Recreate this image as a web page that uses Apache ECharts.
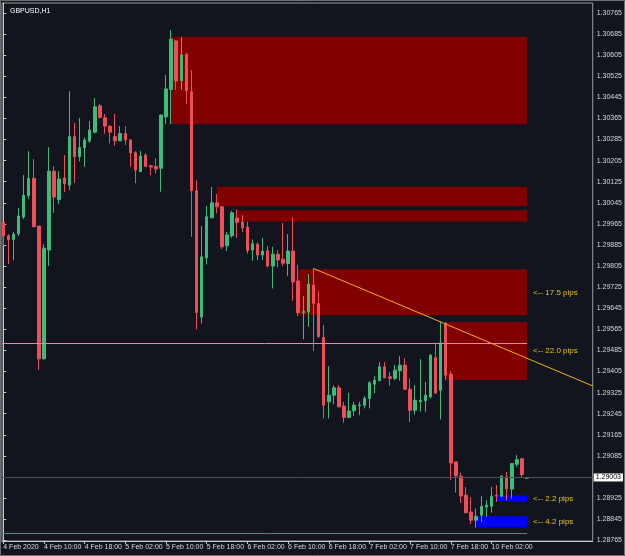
<!DOCTYPE html>
<html>
<head>
<meta charset="utf-8">
<script src="https://cdn.jsdelivr.net/npm/echarts@6/dist/echarts.min.js"></script>
<style>
html,body{margin:0;padding:0;background:#12151e;}
#c{width:625px;height:556px;}
</style>
</head>
<body>
<div id="c"></div>
<script>
// ---- Data (GBPUSD H1, bar 0 = 4 Feb 2020 02:00) ----
const opens = [
1.29971,1.29920,1.29905,1.29927,1.29991,1.30072,1.30138,1.29957,1.29453,1.29866,
1.30165,1.30058,1.30139,1.30112,1.30296,1.30220,1.30254,1.30279,1.30313,1.30413,
1.30368,1.30335,1.30296,1.30280,1.30308,1.30283,1.30235,1.30163,1.30226,1.30186,
1.30183,1.30176,1.30371,1.30475,1.30659,1.30508,1.30607,1.30466,1.30091,1.29612,
1.29836,1.29988,1.30045,1.30030,1.29882,1.29920,1.29987,1.29972,1.29953,1.29866,
1.29888,1.29847,1.29863,1.29805,1.29850,1.29831,1.29815,1.29862,1.29748,1.29628,
1.29631,1.29733,1.29663,1.29534,1.29290,1.29315,1.29343,1.29274,1.29231,1.29256,
1.29276,1.29277,1.29303,1.29357,1.29370,1.29423,1.29385,1.29379,1.29408,1.29429,
1.29338,1.29258,1.29290,1.29294,1.29309,1.29457,1.29334,1.29587,1.29395,1.29062,
1.29008,1.28936,1.28872,1.28841,1.28860,1.28891,1.28894,1.28936,1.28932,1.29005,
1.28959,1.29053,1.29074,1.29000];
const closes = [
1.29920,1.29905,1.29926,1.29995,1.30074,1.30138,1.29954,1.29453,1.29873,1.30165,
1.30067,1.30135,1.30117,1.30296,1.30220,1.30255,1.30283,1.30321,1.30409,1.30369,
1.30336,1.30313,1.30280,1.30308,1.30283,1.30235,1.30169,1.30222,1.30183,1.30181,
1.30173,1.30378,1.30477,1.30666,1.30507,1.30606,1.30470,1.30091,1.29629,1.29840,
1.29992,1.30045,1.30030,1.29878,1.29923,1.30007,1.29971,1.29950,1.29864,1.29890,
1.29847,1.29862,1.29805,1.29850,1.29828,1.29816,1.29862,1.29745,1.29628,1.29634,
1.29737,1.29663,1.29537,1.29277,1.29315,1.29343,1.29271,1.29231,1.29255,1.29277,
1.29278,1.29303,1.29362,1.29372,1.29423,1.29381,1.29379,1.29410,1.29429,1.29338,
1.29258,1.29296,1.29296,1.29315,1.29467,1.29323,1.29514,1.29391,1.29058,1.29009,
1.28933,1.28869,1.28841,1.28856,1.28894,1.28898,1.28932,1.28932,1.29008,1.28959,
1.29056,1.29071,1.29014,1.29003];
const highs = [
1.29972,1.29926,1.29935,1.30026,1.30150,1.30241,1.30211,1.29957,1.29888,1.30256,
1.30184,1.30165,1.30226,1.30468,1.30348,1.30367,1.30292,1.30355,1.30442,1.30420,
1.30382,1.30340,1.30382,1.30336,1.30336,1.30287,1.30241,1.30242,1.30233,1.30188,
1.30214,1.30380,1.30530,1.30700,1.30663,1.30674,1.30614,1.30548,1.30131,1.29957,
1.30033,1.30105,1.30078,1.30033,1.29935,1.30014,1.30020,1.29998,1.29973,1.29906,
1.29895,1.29912,1.29882,1.29878,1.29866,1.29969,1.29926,1.29990,1.29809,1.29691,
1.29775,1.29796,1.29711,1.29581,1.29425,1.29353,1.29353,1.29290,1.29324,1.29290,
1.29290,1.29312,1.29368,1.29387,1.29441,1.29441,1.29403,1.29429,1.29463,1.29455,
1.29379,1.29353,1.29452,1.29366,1.29471,1.29514,1.29593,1.29593,1.29406,1.29065,
1.29020,1.28967,1.28928,1.28885,1.28932,1.28917,1.28967,1.28974,1.29012,1.29024,
1.29058,1.29088,1.29077,1.29004];
const lows = [
1.29881,1.29812,1.29827,1.29919,1.29983,1.30059,1.29953,1.29410,1.29452,1.29805,
1.30007,1.30041,1.30085,1.30093,1.30121,1.30202,1.30182,1.30273,1.30308,1.30365,
1.30307,1.30270,1.30261,1.30279,1.30264,1.30182,1.30119,1.30162,1.30181,1.30150,
1.30157,1.30087,1.30343,1.30343,1.30473,1.30473,1.30420,1.29916,1.29565,1.29587,
1.29811,1.29987,1.30005,1.29869,1.29862,1.29912,1.29912,1.29933,1.29852,1.29825,
1.29827,1.29828,1.29800,1.29720,1.29800,1.29805,1.29767,1.29673,1.29615,1.29527,
1.29575,1.29483,1.29534,1.29227,1.29227,1.29281,1.29270,1.29210,1.29228,1.29237,
1.29239,1.29265,1.29265,1.29322,1.29368,1.29380,1.29351,1.29372,1.29370,1.29334,
1.29214,1.29242,1.29252,1.29252,1.29303,1.29319,1.29223,1.29372,1.28993,1.28945,
1.28907,1.28868,1.28826,1.28813,1.28834,1.28853,1.28869,1.28910,1.28929,1.28917,
1.28923,1.29043,1.29005,1.29000];

// x tick labels (every 8 bars)
const xTickIndex  = [0,8,16,24,32,40,48,56,64,72,80,88,96];
const xTickLabels = ['4 Feb 2020','4 Feb 10:00','4 Feb 18:00','5 Feb 02:00','5 Feb 10:00','5 Feb 18:00',
  '6 Feb 02:00','6 Feb 10:00','6 Feb 18:00','7 Feb 02:00','7 Feb 10:00','7 Feb 18:00','10 Feb 02:00'];
// y tick labels
const yTicks = [1.28765,1.28845,1.28925,1.29005,1.29085,1.29165,1.29245,1.29325,1.29405,1.29485,
  1.29565,1.29645,1.29725,1.29805,1.29885,1.29965,1.30045,1.30125,1.30205,1.30285,
  1.30365,1.30445,1.30525,1.30605,1.30685,1.30765];

// zones (rectangles): start bar, end bar, top price, bottom price, label
const zoneStart  = [33, 42, 46, 58, 87, 97, 93];
const zoneEnd    = [103,103,103,103,103,103,103];
const zoneTop    = [1.30675,1.30106,1.30017,1.29793,1.29593,1.28935,1.28856];
const zoneBottom = [1.30343,1.30033,1.29974,1.29618,1.29373,1.28913,1.28814];
const zoneLabel  = ['','','','<-- 17.5 pips','<-- 22.0 pips','<-- 2.2 pips','<-- 4.2 pips'];
const zoneKind   = ['supply','supply','supply','supply','supply','demand','demand'];

// horizontal levels
const bidPrice = 1.29003;
const levelPrices = [1.29511, 1.28793];
const levelEndBar = 103;
// trendline anchors (bar index)
const trendFrom = 61, trendTo = 86;

// ---- Chart ----
const X_MIN = -0.25, X_MAX = 115.9;
const Y_MIN = 1.28762, Y_MAX = 1.30803;
const UP = '#3dbb7b', DOWN = '#f04d59';
const AXIS_FONT = '"Liberation Sans Narrow", "Liberation Sans", sans-serif';
const levelColors = ['#e38aa8', '#d04a84'];

const candleData = opens.map((o, i) => [i, o, closes[i], lows[i], highs[i]]);

const zoneColors = { supply: '#800000', demand: '#0000ff' };
const areaData = zoneStart.map((s, k) => [
  {
    xAxis: s, yAxis: zoneTop[k],
    itemStyle: { color: zoneColors[zoneKind[k]], opacity: 1 },
    label: {
      show: zoneLabel[k] !== '', formatter: zoneLabel[k], position: 'right', distance: 6,
      color: '#e8c31c', fontSize: 8, fontFamily: '"Liberation Sans", sans-serif'
    }
  },
  { xAxis: zoneEnd[k], yAxis: zoneBottom[k] }
]);

const levelLines = levelPrices.map((p, k) => [
  { coord: [X_MIN, p], lineStyle: { color: levelColors[k], width: 1, type: 'solid' }, label: { show: false } },
  { coord: [levelEndBar, p] }
]);

const slope = (highs[trendTo] - highs[trendFrom]) / (trendTo - trendFrom);
const trendData = [[trendFrom, highs[trendFrom]], [X_MAX, highs[trendFrom] + slope * (X_MAX - trendFrom)]];

const chart = echarts.init(document.getElementById('c'), null, { renderer: 'canvas', width: 625, height: 556 });
chart.setOption({
  backgroundColor: '#12151e',
  animation: false,
  graphic: [{
    type: 'rect', silent: true, z: -1,
    shape: { x: 0.5, y: 0.5, width: 624, height: 555 },
    style: { fill: null, stroke: '#6e6e6e', lineWidth: 1 }
  }],
  title: {
    text: 'GBPUSD,H1', left: 5, top: 3,
    textStyle: { color: '#ffffff', fontSize: 7, fontWeight: 'normal', fontFamily: '"Liberation Sans", sans-serif' }
  },
  grid: { left: 2, right: 31, top: 3, bottom: 15, show: true, borderColor: '#9a9a9a', borderWidth: 1 },
  xAxis: {
    type: 'value', min: X_MIN, max: X_MAX,
    splitLine: { show: false },
    axisLine: { show: true, lineStyle: { color: '#c8c8c8', width: 1 } },
    axisTick: { show: true, customValues: xTickIndex, length: 3, lineStyle: { color: '#c8c8c8' } },
    axisLabel: {
      customValues: xTickIndex, align: 'left', margin: 3, color: '#d8d8d8', fontSize: 7, fontFamily: AXIS_FONT,
      formatter: v => { const k = xTickIndex.indexOf(Math.round(v)); return k >= 0 ? xTickLabels[k] : ''; }
    }
  },
  yAxis: {
    type: 'value', position: 'right', min: Y_MIN, max: Y_MAX, scale: true,
    splitLine: { show: false },
    axisLine: { show: true, lineStyle: { color: '#c8c8c8', width: 1 } },
    axisTick: { show: true, customValues: yTicks, length: 3, lineStyle: { color: '#c8c8c8' } },
    axisLabel: {
      customValues: yTicks, margin: 4, color: '#d8d8d8', fontSize: 7, fontFamily: AXIS_FONT,
      formatter: v => v.toFixed(5)
    }
  },
  series: [
    {
      name: 'zones', type: 'line', data: [], z: 1, silent: true,
      markArea: { silent: true, data: areaData }
    },
    {
      name: 'levels', type: 'line', data: [], z: 2, silent: true,
      markLine: {
        silent: true, symbol: 'none', animation: false, precision: 5,
        data: [
          { yAxis: bidPrice, lineStyle: { color: '#4d5058', width: 1, type: 'solid' },
            label: { show: true, position: 'end', formatter: bidPrice.toFixed(5), distance: 1,
              color: '#000', backgroundColor: '#ffffff', padding: [1, 2, 0, 2], fontSize: 7, fontFamily: AXIS_FONT } }
        ].concat(levelLines)
      }
    },
    {
      name: 'GBPUSD', type: 'candlestick', z: 3,
      data: candleData,
      barWidth: 3,
      itemStyle: { color: UP, color0: DOWN, borderColor: UP, borderColor0: DOWN, borderWidth: 1 }
    },
    {
      name: 'trend', type: 'line', z: 4, data: trendData, symbol: 'none', silent: true,
      lineStyle: { color: '#f2b20a', width: 1 }
    }
  ]
});
</script>
</body>
</html>
